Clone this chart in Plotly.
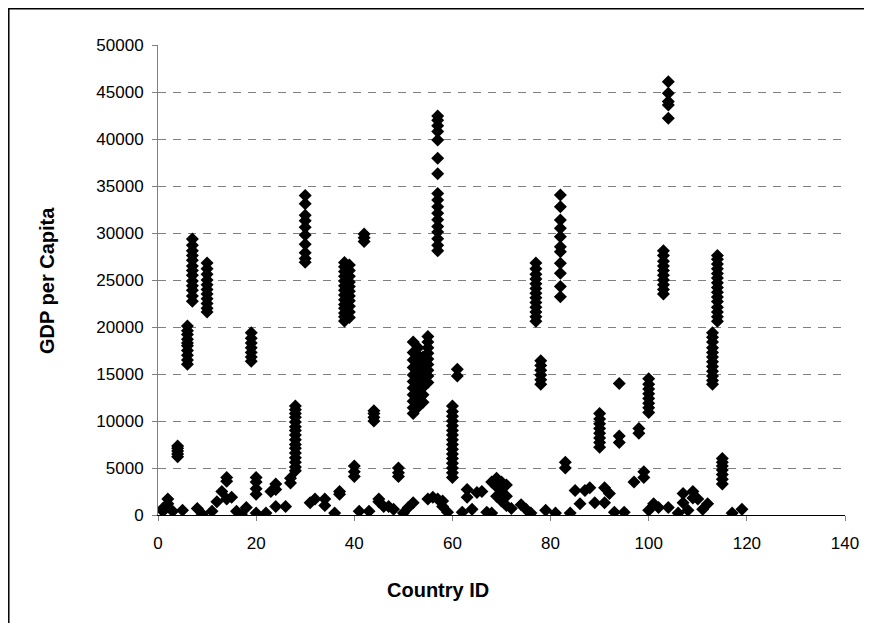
import plotly.graph_objects as go

# Columns of yearly GDP per capita values for single countries
col_ids = [4, 6, 7, 10, 14, 19, 20, 28, 30, 38, 39, 40, 42, 44, 49,
           52, 53, 54, 55, 57, 60, 61, 77, 78, 82, 83, 90, 94, 98, 99,
           100, 103, 104, 113, 114, 115]
col_vals = [
    [6200, 6500, 6800, 7100, 7350],
    [16050, 16500, 17000, 17500, 18000, 18300, 18700, 19200, 19600, 20100],
    [22750, 23300, 23900, 24400, 24900, 25500, 26000, 26500, 27100, 27600, 28100, 28700, 29350],
    [21600, 22000, 22500, 23000, 23500, 24000, 24500, 25000, 25600, 26200, 26800],
    [3600, 4000],
    [16350, 16800, 17300, 17800, 18300, 18800, 19400],
    [2200, 2800, 3500, 4000],
    [4700, 5100, 5600, 6100, 6600, 7100, 7500, 8000, 8500, 9000, 9400, 9900, 10400, 10800, 11200, 11600],
    [26900, 27300, 27900, 28800, 29800, 30600, 31300, 31900, 33100, 34000],
    [20650, 21100, 21500, 22000, 22400, 22900, 23400, 23900, 24400, 24900, 25400, 25900, 26400, 26850],
    [21000, 21600, 22200, 22800, 23300, 23800, 24300, 24800, 25400, 26000, 26600],
    [4100, 4600, 5200],
    [29100, 29500, 29900],
    [10000, 10400, 10800, 11100],
    [4100, 4500, 5000],
    [10800, 11400, 12100, 12800, 13500, 14200, 14900, 15700, 16500, 17300, 18400],
    [11500, 12200, 13000, 13800, 14600, 15400, 16200, 17000, 17800],
    [12000, 12800, 13600, 14400, 15200, 16000, 16800],
    [14100, 14800, 15400, 16000, 16600, 17200, 17800, 18400, 19000],
    [28100, 28700, 29400, 30100, 30700, 31400, 32100, 32800, 33500, 34200, 36300, 37950, 39900, 40800, 41400, 42000, 42450],
    [4000, 4500, 5000, 5500, 6000, 6500, 7000, 7500, 8000, 8500, 9000, 9500, 10000, 10500, 11000, 11600],
    [14800, 15500],
    [20600, 21100, 21600, 22100, 22600, 23100, 23600, 24100, 24600, 25100, 25600, 26200, 26800],
    [13900, 14400, 14900, 15400, 15900, 16400],
    [23230, 24300, 25720, 26780, 28010, 28550, 29600, 30500, 31390, 32800, 34050],
    [5000, 5600],
    [7200, 7700, 8200, 8700, 9200, 9700, 10200, 10800],
    [7700, 8400, 14000],
    [8700, 9200],
    [4000, 4600],
    [10900, 11400, 11900, 12400, 12900, 13400, 13900, 14500],
    [23500, 24000, 24500, 25000, 25500, 26000, 26500, 27000, 27600, 28100],
    [42200, 43620, 43980, 44870, 46100],
    [13900, 14300, 14800, 15300, 15800, 16300, 16800, 17300, 17800, 18400, 18900, 19400],
    [20600, 21100, 21600, 22100, 22700, 23200, 23700, 24200, 24700, 25200, 25700, 26200, 26700, 27200, 27600],
    [3300, 3800, 4300, 4800, 5200, 5600, 6000],
]

# Scattered low-income points near the floor
low_ids = [1, 1, 2, 2, 3, 5, 8, 9, 11, 12, 13, 14, 15, 16, 17, 18, 20, 22,
           23, 24, 24, 24, 26, 27, 27, 31, 32, 34, 34, 36, 37, 37, 41, 43,
           45, 45, 46, 47, 48, 50, 51, 52, 55, 56, 57, 58, 58, 59, 62, 63,
           63, 64, 65, 66, 67, 68, 68, 69, 69, 69, 70, 70, 70, 71, 71, 71,
           72, 74, 75, 76, 79, 81, 84, 85, 86, 87, 88, 89, 91, 91, 92, 93,
           95, 97, 100, 101, 102, 104, 106, 107, 107, 108, 109, 109, 110,
           111, 112, 117, 119]
low_vals = [700, 400, 1700, 1200, 400, 500, 700, 100, 400, 1400, 2500, 1700,
            1900, 400, 100, 800, 200, 200, 2500, 3300, 2700, 900, 900, 3900,
            3400, 1300, 1700, 1700, 1000, 200, 2500, 2200, 400, 400, 1700,
            1400, 900, 900, 600, 200, 800, 1300, 1700, 1900, 1700, 1500, 900,
            300, 300, 2700, 1900, 600, 2400, 2500, 300, 200, 3500, 3900, 3000,
            2000, 3500, 2500, 1500, 3200, 2000, 1000, 700, 1100, 600, 200, 500,
            200, 200, 2600, 1200, 2600, 2900, 1300, 2900, 1300, 2300, 300, 300,
            3500, 500, 1200, 800, 800, 200, 2300, 1300, 500, 2500, 1800, 1700,
            600, 1200, 200, 600]

x = []
y = []
for cid, vals in zip(col_ids, col_vals):
    x += [cid] * len(vals)
    y += vals
x += low_ids
y += low_vals

fig = go.Figure()
fig.add_trace(go.Scatter(
    x=x, y=y, mode='markers',
    marker=dict(symbol='diamond', size=10, color='black'),
    showlegend=False
))

# the page body has an 8px margin, so the figure is sized to sit inside it
grey = '#808080'
fig.update_layout(
    width=856, height=615,
    margin=dict(l=150, r=19, t=37, b=108, autoexpand=False),
    paper_bgcolor='white', plot_bgcolor='white',
    font=dict(family='Liberation Sans, Arial', size=17, color='black'),
    xaxis=dict(range=[0, 140], dtick=20, showgrid=False, zeroline=False,
               showline=True, linecolor='black', linewidth=1,
               ticks='outside', ticklen=5, tickcolor=grey,
               ticklabelstandoff=8, automargin=False),
    yaxis=dict(range=[0, 50000], dtick=5000, tickformat='d', showgrid=True,
               gridcolor=grey, griddash='8px,7px', gridwidth=1, zeroline=False,
               showline=True, linecolor=grey, linewidth=1,
               ticks='outside', ticklen=5, tickcolor=grey,
               ticklabelstandoff=5, automargin=False),
    annotations=[
        dict(text='<b>Country ID</b>', xref='paper', yref='paper',
             x=0.4076, y=-0.1596, xanchor='center', yanchor='middle',
             showarrow=False, font=dict(size=20)),
        dict(text='<b>GDP per Capita</b>', xref='paper', yref='paper',
             x=-0.1616, y=0.5, xanchor='center', yanchor='middle',
             textangle=-90, showarrow=False, font=dict(size=20)),
    ],
    shapes=[dict(type='rect', xref='paper', yref='paper',
                 x0=-0.2172, x1=1.3, y0=-0.5, y1=1.0771,
                 line=dict(color='black', width=1.5))],
)

fig.write_html("out.html")
